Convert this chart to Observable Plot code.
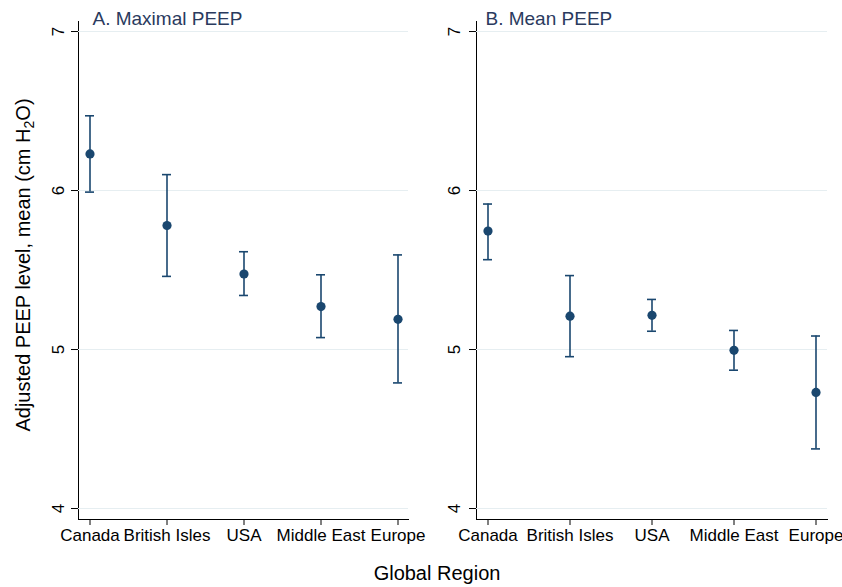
<!DOCTYPE html>
<html>
<head>
<meta charset="utf-8">
<script src="https://cdn.jsdelivr.net/npm/d3@7"></script>
<script src="https://cdn.jsdelivr.net/npm/@observablehq/plot@0.6"></script>
<style>
  html, body { margin: 0; padding: 0; background: #fff; overflow: hidden; }
  #wrap { position: relative; width: 842px; height: 587px; font-family: "Liberation Sans", Arial, sans-serif; }
  #left, #right { position: absolute; top: 0; }
  #left { left: 0; }
  #right { left: 420px; }
  #ytitle { position: absolute; left: -177px; top: 253px; width: 400px; height: 24px; line-height: 24px;
            text-align: center; font-size: 20px; color: #000; transform: rotate(-90deg); transform-origin: center; white-space: nowrap; }
  #ytitle sub { font-size: 14px; vertical-align: -4px; line-height: 0; }
  #xtitle { position: absolute; left: 237px; width: 400px; top: 561px; text-align: center; font-size: 20px; line-height: 24px; color: #000; }
</style>
</head>
<body>
<div id="wrap">
  <div id="left"></div>
  <div id="right"></div>
  <div id="ytitle">Adjusted PEEP level, mean (cm H<sub>2</sub>O)</div>
  <div id="xtitle">Global Region</div>
</div>
<script>
const regions = ["Canada", "British Isles", "USA", "Middle East", "Europe"];
const maxMean = [6.23, 5.78, 5.475, 5.27, 5.19];
const maxLow  = [5.99, 5.46, 5.34, 5.075, 4.79];
const maxHigh = [6.47, 6.10, 5.615, 5.47, 5.595];
const meanMean = [5.745, 5.21, 5.215, 4.995, 4.73];
const meanLow  = [5.565, 4.955, 5.115, 4.87, 4.375];
const meanHigh = [5.915, 5.465, 5.315, 5.12, 5.085];
const yTicks = [4, 5, 6, 7];
const panelTitles = ["A. Maximal PEEP", "B. Mean PEEP"];

const navy = "#1a476f";
const grid = "#e6eef1";

function rows(mean, low, high) {
  return regions.map((r, i) => ({region: r, mean: mean[i], low: low[i], high: high[i]}));
}

function panel(data, title, opts) {
  return Plot.plot({
    width: opts.width,
    height: 550,
    marginLeft: opts.marginLeft,
    marginRight: opts.marginRight,
    marginTop: 21,
    marginBottom: 31,
    style: {fontFamily: "'Liberation Sans', Arial, sans-serif", fontSize: "17px", color: "#000", background: "transparent", overflow: "visible"},
    x: {type: "band", domain: regions, paddingInner: opts.pi, paddingOuter: opts.po, align: 0.5,
        tickSize: 6, tickPadding: 3, line: true, label: null},
    y: {domain: [3.931, 7.063], ticks: yTicks, tickFormat: d => String(d), tickSize: 7, tickRotate: -90, tickPadding: opts.tp,
        line: true, label: null},
    marks: [
      Plot.ruleY(yTicks, {stroke: grid, strokeWidth: 1}),
      Plot.ruleX(data, {x: "region", y1: "low", y2: "high", stroke: navy, strokeWidth: 1.6}),
      Plot.tickY(data, {x: "region", y: "low", stroke: navy, strokeWidth: 1.6}),
      Plot.tickY(data, {x: "region", y: "high", stroke: navy, strokeWidth: 1.6}),
      Plot.dot(data, {x: "region", y: "mean", r: 4.6, fill: navy, stroke: "none"}),
      Plot.text([title], {frameAnchor: "top-left", dx: opts.tdx, dy: -3, lineAnchor: "middle", textAnchor: "start",
                          fontSize: 19, fill: "#2a3a5e"})
    ]
  });
}

document.getElementById("left").appendChild(
  panel(rows(maxMean, maxLow, maxHigh), panelTitles[0],
        {width: 420, marginLeft: 78, marginRight: 12, pi: 0.8835, po: 0.071, tp: 8, tdx: 14}));
document.getElementById("right").appendChild(
  panel(rows(meanMean, meanLow, meanHigh), panelTitles[1],
        {width: 422, marginLeft: 56, marginRight: 15, pi: 0.891, po: 0.067, tp: 10, tdx: 9}));
</script>
</body>
</html>
